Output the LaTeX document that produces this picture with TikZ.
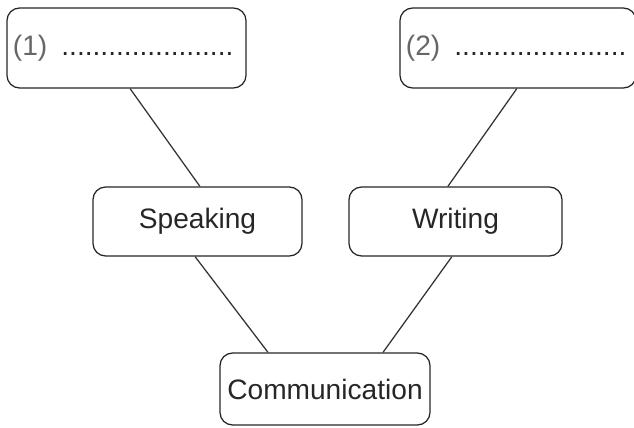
\documentclass[tikz,border=0pt]{standalone}
\usepackage{fontspec}
\setmainfont{Liberation Sans}
\begin{document}
\begin{tikzpicture}[x=0.025cm,y=-0.025cm,
        box/.style={draw=black!85,rounded corners=9pt,line width=0.9pt,inner sep=0pt,
            font=\fontsize{20}{24}\selectfont,text=black!85},
        link/.style={draw=black!80,line width=0.9pt}]
            \useasboundingbox (0,0) rectangle (634,428);

            \node[box,minimum width=5.975cm,minimum height=2cm,inner xsep=0.15cm,text width=5.675cm,align=left] (blank1) at (126.5,48) {\textcolor{black!60}{(1)} \,......................};
            \node[box,minimum width=5.9cm,minimum height=2cm,inner xsep=0.15cm,text width=5.6cm,align=left] (blank2) at (518,48) {\textcolor{black!60}{(2)} \,......................};

            \node[box,minimum width=5.225cm,minimum height=1.725cm] (speak) at (197.5,221.5) {Speaking};
            \node[box,minimum width=5.325cm,minimum height=1.725cm] (write) at (455.5,221.5) {Writing};

            \node[box,minimum width=5.25cm,minimum height=1.8cm] (comm) at (325,389) {Communication};

            \draw[link] ([xshift=0.09cm]blank1.south) -- ([xshift=0.06cm]speak.north);
            \draw[link] ([xshift=-0.03cm]blank2.south) -- ([xshift=-0.19cm]write.north);
            \draw[link] ([xshift=-0.06cm]speak.south) -- ([xshift=-1.425cm]comm.north);
            \draw[link] ([xshift=-0.09cm]write.south) -- ([xshift=1.45cm]comm.north);
        \end{tikzpicture}
\end{document}
